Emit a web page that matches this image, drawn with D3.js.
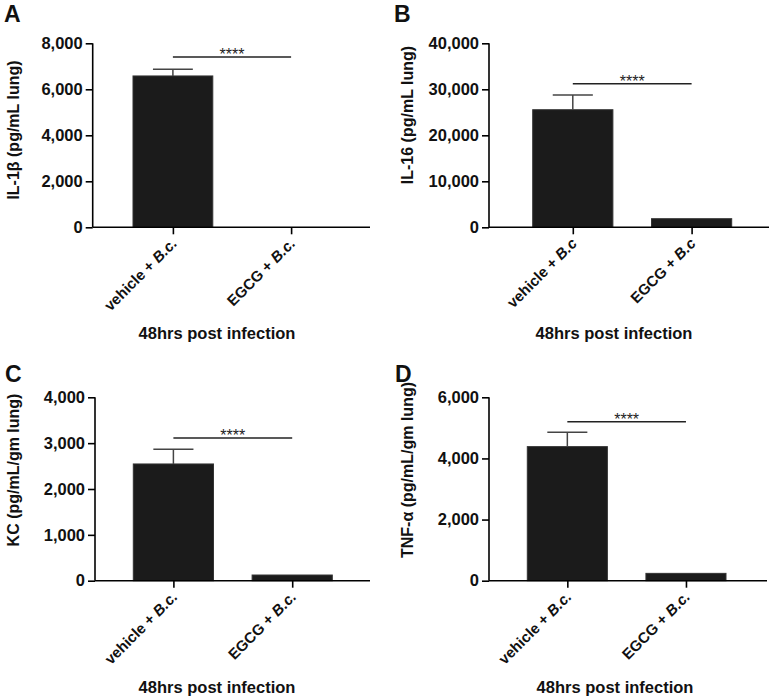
<!DOCTYPE html>
<html>
<head>
<meta charset="utf-8">
<script src="https://cdn.jsdelivr.net/npm/d3@7"></script>
<style>
  html, body { margin: 0; padding: 0; background: #fff; }
  svg { display: block; font-family: "Liberation Sans", Arial, sans-serif; }
</style>
</head>
<body>
<svg id="chart" width="773" height="697"></svg>
<script>
// ---- data ----
const panelLetters = ["A", "B", "C", "D"];
const groupNames = ["vehicle", "EGCG"];
const groupSuffix = [" + ", " + "];
const italicParts = ["B.c.", "B.c", "B.c.", "B.c."];
const yTitles = ["IL-1β (pg/mL lung)", "IL-16 (pg/mL lung)", "KC (pg/mL/gm lung)", "TNF-α (pg/mL/gm lung)"];
const xTitle = "48hrs post infection";
const yMax = [8000, 40000, 4000, 6000];
const yTickValues = [
  [0, 2000, 4000, 6000, 8000],
  [0, 10000, 20000, 30000, 40000],
  [0, 1000, 2000, 3000, 4000],
  [0, 2000, 4000, 6000]
];
const vehicleMeans = [6580, 25560, 2546, 4386];
const vehicleErr = [290, 3200, 321, 471];
const egcgMeans = [0, 1870, 124, 240];
const egcgErr = [0, 0, 0, 0];
const sigLevels = [7400, 31200, 3110, 5200];
const sigLabel = "****";

// ---- layout (positions only) ----
const layout = [
  { axisX: 92.7, axisEnd: 370, band: [133, 331], yTop: 43.3, yBot: 227.3, letter: [4, 22], titleX: 19, titleY: 130, xTitle: [217, 339] },
  { axisX: 489, axisEnd: 769, band: [532.7, 731.7], yTop: 43.3, yBot: 227.3, letter: [394, 22], titleX: 413, titleY: 115, xTitle: [614, 339] },
  { axisX: 95, axisEnd: 370, band: [133.3, 332.3], yTop: 397.3, yBot: 580.7, letter: [5, 382], titleX: 19, titleY: 470, xTitle: [217, 693] },
  { axisX: 489, axisEnd: 767, band: [527.3, 726], yTop: 397.3, yBot: 580.7, letter: [395, 382], titleX: 413, titleY: 470, xTitle: [615, 693] }
];

const svg = d3.select("#chart");
const fmt = d3.format(",");
const barColor = "#1b1b1b";

panelLetters.forEach((letter, i) => {
  const L = layout[i];
  const g = svg.append("g");
  const values = [vehicleMeans[i], egcgMeans[i]];
  const errs = [vehicleErr[i], egcgErr[i]];

  const x = d3.scaleBand().domain(groupNames).range(L.band).paddingInner(0.325).paddingOuter(0);
  const y = d3.scaleLinear().domain([0, yMax[i]]).range([L.yBot, L.yTop]);

  // bars
  g.selectAll("rect.bar").data(values).join("rect")
    .attr("class", "bar")
    .attr("x", (d, k) => x(groupNames[k]))
    .attr("width", x.bandwidth())
    .attr("y", d => y(d))
    .attr("height", d => y(0) - y(d))
    .attr("fill", barColor)
    .attr("stroke", "#333")
    .attr("stroke-width", 1);

  // error bars
  values.forEach((v, k) => {
    if (errs[k] <= 0) return;
    const cx = x(groupNames[k]) + x.bandwidth() / 2;
    const capW = x.bandwidth() / 2;
    g.append("line").attr("x1", cx).attr("x2", cx).attr("y1", y(v)).attr("y2", y(v + errs[k]))
      .attr("stroke", "#444").attr("stroke-width", 1.5);
    g.append("line").attr("x1", cx - capW / 2).attr("x2", cx + capW / 2).attr("y1", y(v + errs[k])).attr("y2", y(v + errs[k]))
      .attr("stroke", "#444").attr("stroke-width", 1.5);
  });

  // y axis
  const yAxis = d3.axisLeft(y).tickValues(yTickValues[i]).tickFormat(fmt).tickSize(7).tickPadding(3);
  const ya = g.append("g").attr("transform", `translate(${L.axisX},0)`).call(yAxis);
  ya.select(".domain").attr("stroke", "#000").attr("stroke-width", 1.6).attr("d", `M0,${L.yTop}V${L.yBot}`);
  ya.selectAll(".tick line").attr("stroke", "#000").attr("stroke-width", 1.6);
  ya.selectAll(".tick text").attr("font-size", 16.5).attr("font-weight", "bold").attr("fill", "#111")
    .attr("font-family", "'Liberation Sans', Arial, sans-serif");

  // x axis
  const xPoint = d3.scalePoint().domain(groupNames).range([x(groupNames[0]) + x.bandwidth() / 2, x(groupNames[1]) + x.bandwidth() / 2]);
  const xAxis = d3.axisBottom(xPoint).tickSize(7).tickFormat("");
  const xa = g.append("g").attr("transform", `translate(0,${L.yBot})`).call(xAxis);
  xa.select(".domain").attr("stroke", "#000").attr("stroke-width", 1.6).attr("d", `M${L.axisX},0H${L.axisEnd}`);
  xa.selectAll(".tick line").attr("stroke", "#000").attr("stroke-width", 1.6);

  // rotated category labels
  groupNames.forEach((name, k) => {
    const cx = xPoint(name);
    const t = g.append("text")
      .attr("transform", `translate(${cx + 5},${L.yBot + 17}) rotate(-45)`)
      .attr("text-anchor", "end")
      .attr("font-size", 15)
      .attr("font-weight", "bold")
      .attr("fill", "#111");
    t.append("tspan").text(name + groupSuffix[k]);
    t.append("tspan").attr("font-style", "italic").text(italicParts[i]);
  });

  // significance line
  const sy = y(sigLevels[i]);
  const x1 = xPoint(groupNames[0]), x2 = xPoint(groupNames[1]);
  g.append("line").attr("x1", x1).attr("x2", x2).attr("y1", sy).attr("y2", sy)
    .attr("stroke", "#222").attr("stroke-width", 1.5);
  g.append("text").attr("x", (x1 + x2) / 2).attr("y", sy + 3)
    .attr("text-anchor", "middle").attr("font-size", 16).attr("fill", "#222").text(sigLabel);

  // y title
  g.append("text")
    .attr("transform", `translate(${L.titleX},${L.titleY}) rotate(-90)`)
    .attr("text-anchor", "middle")
    .attr("font-size", 16)
    .attr("font-weight", "bold")
    .attr("fill", "#111")
    .text(yTitles[i]);

  // x title
  g.append("text")
    .attr("x", L.xTitle[0]).attr("y", L.xTitle[1])
    .attr("text-anchor", "middle")
    .attr("font-size", 16.5)
    .attr("font-weight", "bold")
    .attr("fill", "#111")
    .text(xTitle);

  // panel letter
  g.append("text")
    .attr("x", L.letter[0]).attr("y", L.letter[1])
    .attr("font-size", 23)
    .attr("font-weight", "bold")
    .attr("fill", "#111")
    .text(letter);
});
</script>
</body>
</html>
